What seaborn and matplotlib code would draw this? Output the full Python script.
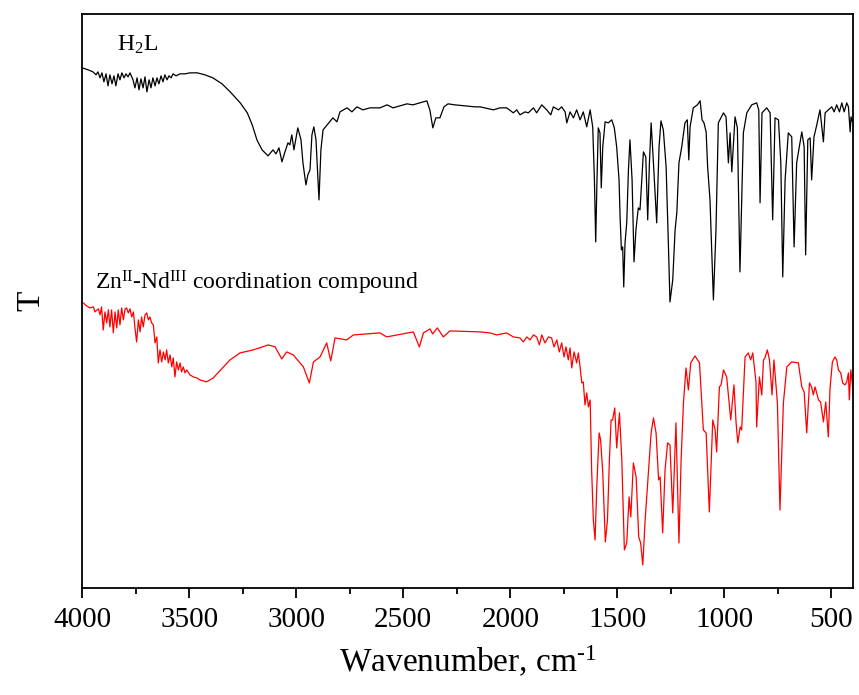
import pandas as pd
import matplotlib
matplotlib.use("Agg")
import matplotlib.pyplot as plt
from matplotlib.ticker import MultipleLocator
import seaborn as sns

# FT-IR spectra, transmittance in arbitrary units (curves are offset)
h2l_wn = [4000, 3973, 3950, 3936, 3927, 3917, 3908, 3899, 3889, 3880, 3871, 3861,
          3852, 3843, 3833, 3824, 3815, 3805, 3796, 3786, 3777, 3763, 3754, 3744,
          3735, 3726, 3716, 3707, 3698, 3688, 3679, 3670, 3660, 3651, 3642, 3632,
          3623, 3614, 3604, 3595, 3585, 3576, 3562, 3543, 3520, 3496, 3463, 3427,
          3390, 3347, 3309, 3262, 3229, 3206, 3184, 3160, 3132, 3109, 3095, 3081,
          3067, 3053, 3039, 3030, 3021, 3011, 2993, 2978, 2969, 2955, 2946, 2936,
          2927, 2918, 2908, 2894, 2885, 2875, 2852, 2829, 2810, 2796, 2763, 2740,
          2717, 2689, 2656, 2609, 2576, 2548, 2516, 2483, 2455, 2423, 2390, 2376,
          2362, 2348, 2329, 2310, 2291, 2259, 2212, 2165,
          2141, 2079, 2048, 2017, 1986, 1970, 1955, 1931, 1916, 1892, 1877, 1853,
          1830, 1811, 1799, 1775, 1760, 1744, 1736, 1721, 1705, 1690, 1674, 1659,
          1643, 1627, 1615, 1607, 1601, 1595, 1589, 1581, 1575, 1568, 1557, 1542,
          1526, 1514, 1503, 1492, 1487, 1481, 1475, 1470, 1464, 1456, 1448, 1441,
          1431, 1422, 1413, 1402, 1394, 1378, 1367, 1358, 1350, 1342, 1332, 1316,
          1305, 1296, 1285, 1272, 1261, 1254, 1241, 1230, 1222, 1212, 1199, 1184,
          1173, 1166, 1160, 1145, 1126, 1113, 1104, 1095, 1085, 1078, 1067, 1051,
          1039, 1028, 1004, 992, 981, 973, 965, 950, 939, 927, 911, 895, 872, 849,
          839, 833, 824, 802, 786, 774, 763, 747, 736, 727, 716, 701, 685, 674,
          662, 638, 627, 620, 610, 599, 592, 581, 568, 553, 537, 529, 514, 498,
          487, 475, 462, 451, 440, 428, 420, 412, 408, 400]
h2l_t = [520, 518, 516, 513, 516, 510, 515, 506, 514, 502, 513, 504,
         512, 502, 514, 508, 515, 510, 514, 511, 515, 508, 500, 510,
         498, 509, 500, 511, 496, 508, 500, 510, 502, 510, 504, 512,
         506, 513, 508, 512, 510, 514, 512, 514, 514, 515, 515, 513,
         510, 504, 496, 485, 475, 463, 448, 438, 432, 438, 434, 440,
         426, 436, 445, 443, 453, 438, 460, 448, 425, 403, 413, 418,
         453, 461, 448, 388, 438, 458, 464, 470, 466, 476, 480, 476,
         481, 478, 480, 480, 483, 480, 482, 484, 483, 485, 487, 478,
         460, 470, 470, 481, 484, 483, 482, 481,
         481, 478, 480, 480, 475, 478, 473, 476, 475, 480, 475, 483,
         478, 473, 481, 478, 481, 476, 465, 476, 470, 478, 468, 476,
         461, 478, 461, 408, 346, 408, 460, 455, 400, 441, 466, 465,
         468, 460, 441, 408, 371, 338, 341, 301, 345, 365, 418, 448,
         408, 326, 358, 380, 378, 436, 431, 368, 425, 465, 428, 365,
         441, 467, 458, 421, 341, 286, 308, 358, 375, 425, 441, 465,
         468, 428, 461, 480, 483, 487, 468, 465, 456, 421, 388, 288,
         358, 465, 475, 471, 425, 455, 416, 471, 460, 316, 455, 475, 483, 485,
         478, 385, 475, 480, 475, 368, 470, 468, 425, 311, 408, 455, 451, 341,
         425, 456, 441, 333, 448, 450, 408, 451, 463, 478, 446, 475, 478, 481,
         476, 483, 476, 485, 476, 485, 481, 456, 471, 465]

cplx_wn = [3995, 3980, 3964, 3948, 3941, 3925, 3917, 3910, 3902, 3894, 3886, 3878,
           3871, 3863, 3855, 3847, 3839, 3832, 3824, 3816, 3808, 3800, 3793, 3785,
           3777, 3769, 3761, 3754, 3746, 3738, 3730, 3723, 3715, 3707, 3699, 3691,
           3684, 3676, 3668, 3660, 3652, 3645, 3637, 3629, 3621, 3613, 3606, 3598,
           3590, 3582, 3575, 3567, 3559, 3551, 3543, 3536, 3528, 3520, 3512, 3497,
           3481, 3465, 3450, 3434, 3422, 3403, 3388, 3310, 3263, 3201, 3131, 3099,
           3068, 3045, 3014, 2967, 2939, 2920, 2889, 2858, 2839, 2819, 2765, 2733,
           2609, 2578, 2453, 2425, 2406, 2375, 2363, 2341, 2313, 2282, 2141,
           2095, 2064, 2017, 1986, 1955, 1939, 1923, 1908, 1892, 1877, 1864, 1853,
           1838, 1822, 1807, 1796, 1783, 1771, 1760, 1749, 1740, 1729, 1721, 1713,
           1702, 1690, 1682, 1674, 1666, 1659, 1651, 1643, 1635, 1627, 1620, 1612,
           1604, 1596, 1585, 1578, 1568, 1556, 1546, 1537, 1529, 1522, 1512, 1503,
           1490, 1479, 1467, 1456, 1445, 1437, 1425, 1412, 1400, 1391, 1381, 1370,
           1355, 1342, 1331, 1319, 1307, 1300, 1288, 1277, 1265, 1254, 1241, 1226,
           1212, 1202, 1191, 1179, 1168, 1157, 1137, 1116, 1106, 1098, 1085, 1070,
           1054, 1043, 1036, 1023, 1015, 1004, 989, 970, 955, 945, 937, 926, 919,
           903, 888, 877, 867, 852, 849, 836, 825, 817, 810, 799, 789, 777, 768,
           752, 740, 724, 708, 685, 654, 638, 627, 615, 602, 592, 584, 576, 560,
           550, 537, 526, 514, 506, 495, 483, 475, 467, 456, 447, 436, 428, 420,
           416, 409, 405, 400]
cplx_t = [285, 282, 280, 281, 276, 279, 273, 281, 258, 276, 265, 278,
          261, 278, 255, 276, 260, 278, 263, 280, 268, 279, 280, 275,
          279, 271, 276, 260, 246, 268, 256, 271, 261, 273, 275, 268,
          271, 265, 263, 245, 251, 225, 238, 226, 236, 228, 238, 225,
          233, 221, 230, 211, 226, 218, 225, 216, 221, 215, 218, 213,
          211, 210, 208, 207, 206, 208, 210, 228, 235, 238, 243, 241,
          229, 236, 233, 221, 205, 226, 231, 245, 227, 250, 248, 253,
          255, 251, 256, 241, 255, 259, 254, 260, 251, 257, 256,
          255, 253, 255, 251, 250, 246, 251, 248, 253, 251, 243, 253,
          245, 251, 250, 241, 248, 236, 245, 231, 241, 228, 240, 220,
          236, 225, 235, 221, 205, 206, 183, 195, 181, 188, 118, 68,
          48, 101, 155, 148, 115, 46, 68, 128, 168, 168, 180, 140,
          175, 128, 38, 45, 91, 71, 125, 111, 51, 45, 23, 68,
          115, 155, 170, 155, 108, 111, 55, 118, 145, 143, 75, 165,
          45, 128, 185, 220, 198, 225, 232, 225, 188, 158, 155, 76,
          168, 158, 136, 201, 203, 218, 211, 168, 203, 165, 145, 161, 158,
          231, 235, 228, 235, 206, 161, 211, 193, 228, 230, 238, 228, 193, 228,
          185, 78, 185, 221, 226, 225, 201, 196, 155, 205, 201, 193, 201, 188,
          186, 166, 186, 151, 200, 226, 231, 228, 218, 215, 205, 203, 206, 215,
          188, 218, 210, 200]

h2l = pd.DataFrame({"wn": h2l_wn, "T": h2l_t})
cplx = pd.DataFrame({"wn": cplx_wn, "T": cplx_t})

sns.set_theme(style="ticks")
plt.rcParams["font.family"] = ["Liberation Serif", "DejaVu Serif"]
plt.rcParams["mathtext.fontset"] = "custom"
plt.rcParams["mathtext.rm"] = "Liberation Serif"
plt.rcParams["mathtext.it"] = "Liberation Serif:italic"
plt.rcParams["text.color"] = "black"
plt.rcParams["axes.labelcolor"] = "black"
plt.rcParams["xtick.color"] = "black"
plt.rcParams["xtick.labelcolor"] = "black"

fig = plt.figure(figsize=(8.59, 6.95), dpi=100)
ax = fig.add_axes([0.0958, 0.154, 0.8969, 0.8261])

sns.lineplot(data=h2l, x="wn", y="T", color="black", lw=0.9,
             estimator=None, ax=ax)
sns.lineplot(data=cplx, x="wn", y="T", color="red", lw=0.9,
             estimator=None, ax=ax)

ax.set_xlim(4000, 400)
ax.set_ylim(0, 574)
ax.xaxis.set_major_locator(MultipleLocator(500))
ax.xaxis.set_minor_locator(MultipleLocator(250))
ax.set_yticks([])
ax.tick_params(axis="x", which="major", direction="out", length=7.5,
               width=1.3, labelsize=21, pad=6, colors="black")
ax.tick_params(axis="x", which="minor", direction="out", length=4,
               width=1.3, colors="black")
for s in ax.spines.values():
    s.set_visible(True)
    s.set_linewidth(1.3)
    s.set_color("black")

ax.set_xlabel(r"Wavenumber, cm$^{\text{-1}}$", fontsize=24, labelpad=8,
              color="black")
ax.set_ylabel("T", fontsize=24, labelpad=26, color="black")

ax.text(3839, 543, "H$_2$L", fontsize=17, ha="left", va="center",
        color="black")
ax.text(3941, 305, r"Zn$^{\mathrm{II}}$-Nd$^{\mathrm{III}}$ coordination compound",
        fontsize=17, ha="left", va="center", color="black")

fig.savefig("out.png", dpi=100)
